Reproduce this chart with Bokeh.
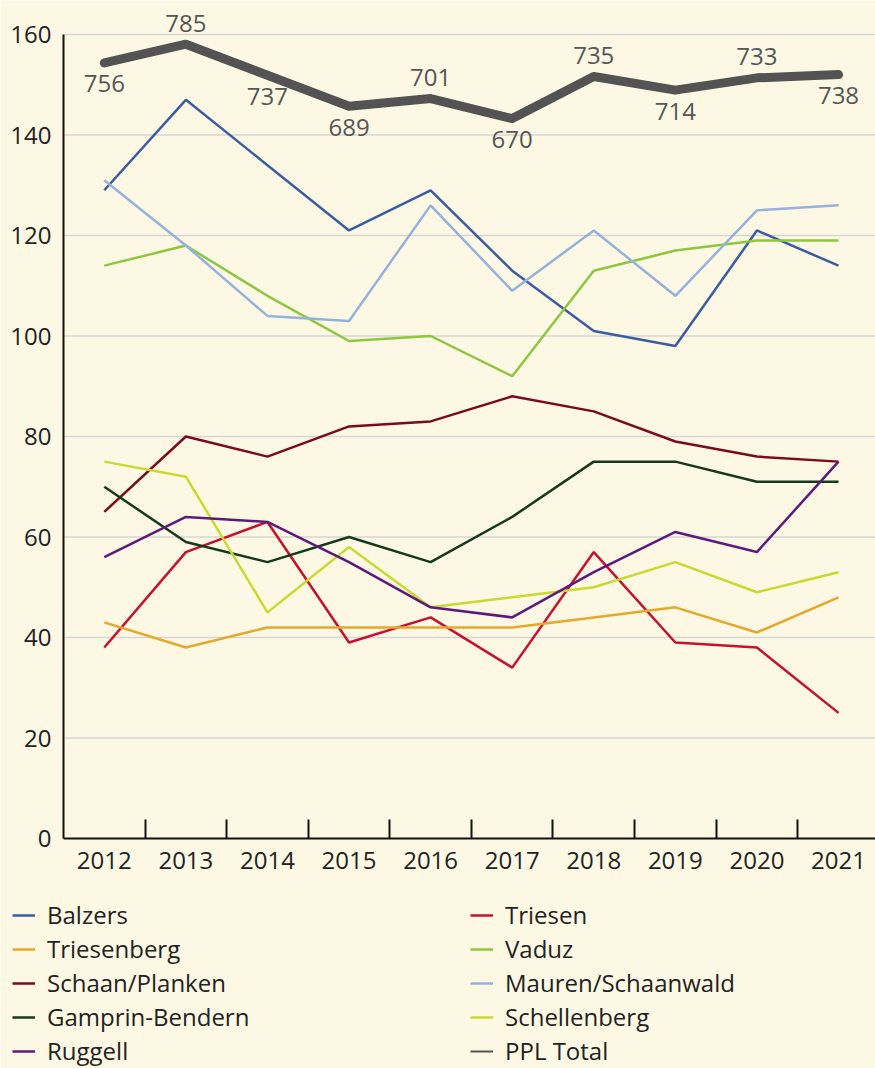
from bokeh.plotting import figure
from bokeh.models import (Range1d, FixedTicker, ColumnDataSource, LabelSet, Legend, LegendItem)
from bokeh.core.properties import value
from bokeh.embed import file_html
from bokeh.resources import INLINE

years = ["2012", "2013", "2014", "2015", "2016", "2017", "2018", "2019", "2020", "2021"]

balzers = [129, 147, 134, 121, 129, 113, 101, 98, 121, 114]
triesen = [38, 57, 63, 39, 44, 34, 57, 39, 38, 25]
triesenberg = [43, 38, 42, 42, 42, 42, 44, 46, 41, 48]
vaduz = [114, 118, 108, 99, 100, 92, 113, 117, 119, 119]
schaan = [65, 80, 76, 82, 83, 88, 85, 79, 76, 75]
mauren = [131, 118, 104, 103, 126, 109, 121, 108, 125, 126]
gamprin = [70, 59, 55, 60, 55, 64, 75, 75, 71, 71]
schellenberg = [75, 72, 45, 58, 46, 48, 50, 55, 49, 53]
ruggell = [56, 64, 63, 55, 46, 44, 53, 61, 57, 75]
ppl_total = [756, 785, 737, 689, 701, 670, 735, 714, 733, 738]
total_label_side = ["below", "above", "below", "below", "above", "below", "above", "below", "above", "below"]

y_ticks = [0, 20, 40, 60, 80, 100, 120, 140, 160]

series = [
    ("Balzers", balzers, "#3b5ca3"),
    ("Triesen", triesen, "#c8102e"),
    ("Triesenberg", triesenberg, "#e5a82a"),
    ("Vaduz", vaduz, "#8dc63f"),
    ("Schaan/Planken", schaan, "#7a0a1f"),
    ("Mauren/Schaanwald", mauren, "#95b1de"),
    ("Gamprin-Bendern", gamprin, "#15391d"),
    ("Schellenberg", schellenberg, "#c8d92f"),
    ("Ruggell", ruggell, "#5d1a7d"),
]
total_color = "#535353"

BG = "#fdf8e3"
FONT = "Open Sans"

# layout geometry (pixels)
W, H = 875, 1068
AX_LEFT, AX_TOP, AX_BOTTOM = 63, 34, 838
Y_MIN, Y_MAX = 0, 160
T_MIN, T_MAX = -443, 800          # hidden secondary scale for PPL Total, aligned with 0..160
STEP = 81.58                       # px per year slot

xc = [i + 0.5 for i in range(len(years))]
boundaries = [i for i in range(1, len(years))]

ppu = (AX_BOTTOM - AX_TOP) / (Y_MAX - Y_MIN)
y_lo = Y_MIN - (H - AX_BOTTOM) / ppu
y_hi = Y_MAX + AX_TOP / ppu
x_lo = -AX_LEFT / STEP
x_hi = (W - AX_LEFT) / STEP
t_scale = (T_MAX - T_MIN) / (Y_MAX - Y_MIN)
t_lo = T_MIN + (y_lo - Y_MIN) * t_scale
t_hi = T_MIN + (y_hi - Y_MIN) * t_scale

p = figure(width=W, height=H, output_backend="svg", toolbar_location=None,
           x_range=Range1d(x_lo, x_hi), y_range=Range1d(y_lo, y_hi),
           min_border_left=0, min_border_right=0, min_border_top=0, min_border_bottom=0)
p.extra_y_ranges = {"total": Range1d(t_lo, t_hi)}
p.background_fill_color = BG
p.border_fill_color = BG
p.outline_line_color = None
p.grid.visible = False

# horizontal grid lines only within the plot area
p.segment(x0=0, x1=len(years), y0=y_ticks[1:], y1=y_ticks[1:],
          line_color="#d6d6d6", line_width=1.5, level="underlay")

p.yaxis.fixed_location = 0
p.yaxis.bounds = (Y_MIN, Y_MAX)
p.yaxis.ticker = FixedTicker(ticks=y_ticks)
p.yaxis.axis_line_color = "#111111"
p.yaxis.axis_line_width = 2
p.yaxis.major_tick_in = 0
p.yaxis.major_tick_out = 0
p.yaxis.minor_tick_in = 0
p.yaxis.minor_tick_out = 0
p.yaxis.major_label_text_font = FONT
p.yaxis.major_label_text_font_size = "24px"
p.yaxis.major_label_text_color = "#222222"
p.yaxis.major_label_standoff = 12

p.xaxis.fixed_location = 0
p.xaxis.bounds = (0, len(years))
p.xaxis.ticker = FixedTicker(ticks=xc, minor_ticks=boundaries)
p.xaxis.major_label_overrides = {x: y for x, y in zip(xc, years)}
p.xaxis.axis_line_color = "#111111"
p.xaxis.axis_line_width = 2
p.xaxis.major_tick_in = 0
p.xaxis.major_tick_out = 0
p.xaxis.minor_tick_in = 19
p.xaxis.minor_tick_out = 0
p.xaxis.minor_tick_line_color = "#111111"
p.xaxis.minor_tick_line_width = 2
p.xaxis.major_label_text_font = FONT
p.xaxis.major_label_text_font_size = "24px"
p.xaxis.major_label_text_color = "#222222"
p.xaxis.major_label_standoff = 13

items = []
for name, vals, color in series:
    r = p.line(x=xc, y=vals, line_color=color, line_width=2.5)
    items.append(LegendItem(label=name, renderers=[r]))

tsrc = ColumnDataSource(dict(
    x=xc, y=ppl_total, txt=[str(v) for v in ppl_total],
    off=[-21 if s == "below" else 21 for s in total_label_side]))
p.line(x="x", y="y", source=tsrc, y_range_name="total", line_color=total_color,
       line_width=9, line_cap="round", line_join="round")
labels = LabelSet(x="x", y="y", text="txt", y_offset="off", source=tsrc, y_range_name="total",
                  text_align="center", text_baseline="middle", text_font=value(FONT),
                  text_font_size="24px", text_color="#555555")
p.add_layout(labels)

# thin key line for the total (not drawn itself)
key_total = p.line(x="x", y="y", source=tsrc, y_range_name="total", line_color=total_color,
                   line_width=2, visible=False)
items.append(LegendItem(label="PPL Total", renderers=[key_total]))

legend = Legend(items=items, location=(12, 1), orientation="horizontal", ncols=2,
                background_fill_alpha=0, border_line_color=None, padding=0, margin=0,
                spacing=1, glyph_width=23, glyph_height=30, label_height=30,
                label_width=422, label_standoff=12, inactive_fill_alpha=0,
                click_policy="none",
                label_text_font=FONT, label_text_font_size="24px", label_text_color="#222222")
p.add_layout(legend, "center")

open("out.html", "w").write(file_html(p, INLINE))
